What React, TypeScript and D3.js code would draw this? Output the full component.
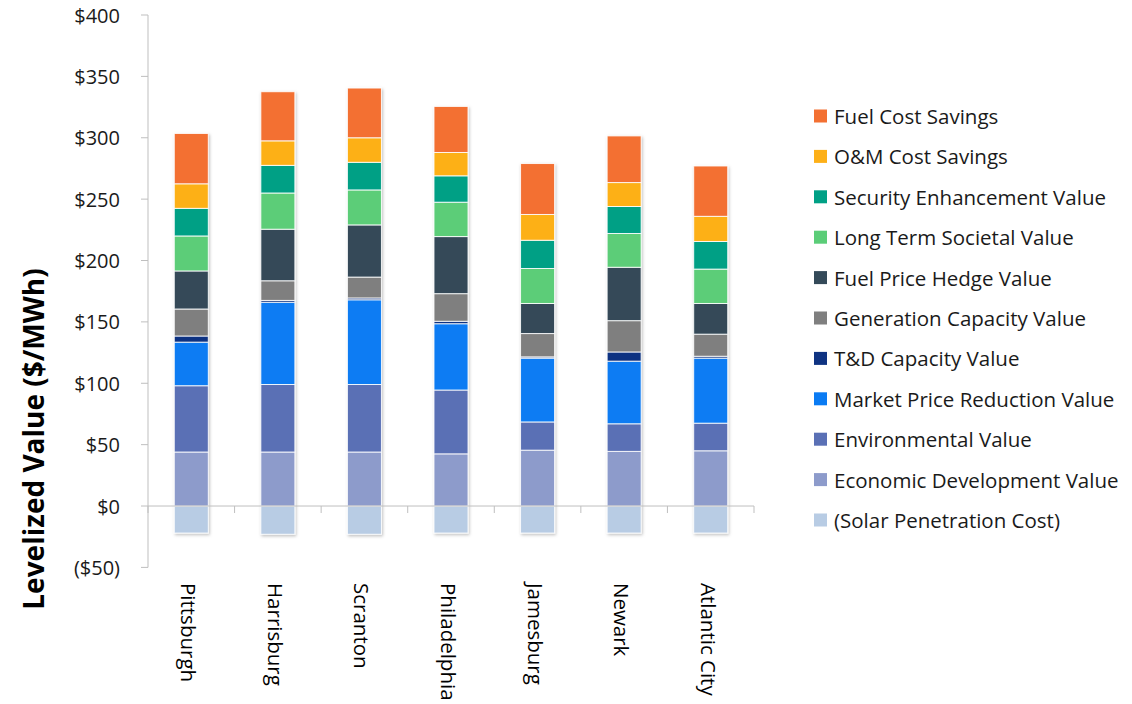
import React from "react";
import * as d3 from "d3";

const cities = ["Pittsburgh", "Harrisburg", "Scranton", "Philadelphia", "Jamesburg", "Newark", "Atlantic City"];

// stacking order bottom -> top (positive), solar is negative
const seriesNames = [
  "(Solar Penetration Cost)",
  "Economic Development Value",
  "Environmental Value",
  "Market Price Reduction Value",
  "T&D Capacity Value",
  "Generation Capacity Value",
  "Fuel Price Hedge Value",
  "Long Term Societal Value",
  "Security Enhancement Value",
  "O&M Cost Savings",
  "Fuel Cost Savings",
];

const seriesColors = [
  "#b8cce4",
  "#8d9bcb",
  "#5a70b5",
  "#0a7bf3",
  "#0f3382",
  "#7f7f7f",
  "#344a59",
  "#5bcd78",
  "#00a085",
  "#fdb018",
  "#f37032",
];

const solarCost = [-22, -23, -23, -22, -22, -22, -22];
const economicDev = [44, 44, 44, 42.5, 45.5, 44.5, 45];
const environmental = [54, 55, 55, 52, 23, 22.5, 22.5];
const marketPrice = [35.5, 67, 69, 54, 52, 51, 53];
const tdCapacity = [5, 1.5, 1.5, 2, 1, 7.5, 1.5];
const genCapacity = [22, 16, 17, 22.5, 19, 25.5, 18];
const fuelHedge = [31, 42, 42.5, 46.5, 24.5, 43.5, 25];
const longTerm = [28.5, 29.5, 28.5, 28, 28.5, 27.5, 28];
const security = [22.5, 22.5, 22.5, 21.5, 23, 22, 22.5];
const omSavings = [20, 20, 20, 19, 21, 19.5, 20.5];
const fuelSavings = [41, 40, 40.5, 37.5, 41.5, 38, 41];

const seriesValues = [
  solarCost,
  economicDev,
  environmental,
  marketPrice,
  tdCapacity,
  genCapacity,
  fuelHedge,
  longTerm,
  security,
  omSavings,
  fuelSavings,
];

const yTicks = [-50, 0, 50, 100, 150, 200, 250, 300, 350, 400];

const fmt = (v: number) => (v < 0 ? `($${Math.abs(v)})` : `$${v}`);

const FONT = "'Open Sans', 'Noto Sans', sans-serif";

export default function App() {
  const W = 1132;
  const H = 704;
  const x = d3
    .scaleBand<string>()
    .domain(cities)
    .range([148, 754])
    .paddingInner(0.607)
    .paddingOuter(0.3035);
  const y = d3.scaleLinear().domain([-50, 400]).range([567.4, 15]);

  // build segments
  const segs: { city: string; i: number; y0: number; y1: number }[] = [];
  cities.forEach((c, ci) => {
    let pos = 0;
    let neg = 0;
    seriesValues.forEach((vals, si) => {
      const v = vals[ci];
      if (v >= 0) {
        segs.push({ city: c, i: si, y0: pos, y1: pos + v });
        pos += v;
      } else {
        segs.push({ city: c, i: si, y0: neg + v, y1: neg });
        neg += v;
      }
    });
  });

  const boundaries = d3.range(cities.length + 1).map((k) => 148 + k * (606 / cities.length));

  const legendOrder = [...seriesNames.keys()].reverse();

  return (
    <svg
      width={W}
      height={H}
      style={{ position: "absolute", left: 0, top: 0, background: "#fff" }}
      fontFamily={FONT}
    >
      <defs>
        <filter id="shadow" x="-20%" y="-5%" width="140%" height="110%">
          <feDropShadow dx="1" dy="1.5" stdDeviation="1.5" floodColor="#000" floodOpacity="0.25" />
        </filter>
      </defs>

      {/* y axis */}
      <line x1={148} x2={148} y1={y(400)} y2={y(-50)} stroke="#bfbfbf" strokeWidth={1} />
      {yTicks.map((t) => (
        <g key={t}>
          <line x1={141} x2={148} y1={y(t)} y2={y(t)} stroke="#bfbfbf" strokeWidth={1} />
          <text
            x={120}
            y={y(t)}
            textAnchor="end"
            dominantBaseline="central"
            fontSize={20}
            fill="#1a1a1a"
          >
            {fmt(t)}
          </text>
        </g>
      ))}

      {/* bars */}
      {cities.map((c) => (
        <g key={c} filter="url(#shadow)">
          {segs
            .filter((s) => s.city === c)
            .map((s) => (
              <rect
                key={s.i}
                x={x(c)!}
                width={x.bandwidth()}
                y={y(s.y1)}
                height={Math.max(0, y(s.y0) - y(s.y1))}
                fill={seriesColors[s.i]}
                stroke="#ffffff"
                strokeOpacity={0.85}
                strokeWidth={1}
              />
            ))}
        </g>
      ))}

      {/* x axis */}
      <line x1={148} x2={754} y1={y(0)} y2={y(0)} stroke="#bfbfbf" strokeWidth={1} />
      {boundaries.map((b, k) => (
        <line key={k} x1={b} x2={b} y1={y(0)} y2={y(0) + 7} stroke="#bfbfbf" strokeWidth={1} />
      ))}

      {/* category labels */}
      {cities.map((c) => (
        <text
          key={c}
          transform={`translate(${x(c)! + x.bandwidth() / 2 - 2},583) rotate(90)`}
          textAnchor="start"
          dominantBaseline="central"
          fontSize={20.5}
          fill="#000"
        >
          {c}
        </text>
      ))}

      {/* y title */}
      <text
        transform={`translate(33,439) rotate(-90)`}
        textAnchor="middle"
        dominantBaseline="central"
        fontSize={28}
        fontWeight="bold"
        fill="#000"
      >
        Levelized Value ($/MWh)
      </text>

      {/* legend */}
      {legendOrder.map((si, k) => (
        <g key={si} transform={`translate(814,${116 + k * 40.4})`}>
          <rect x={0} y={-6.5} width={13} height={13} fill={seriesColors[si]} />
          <text x={20} y={0} dominantBaseline="central" fontSize={20.5} fill="#1a1a1a">
            {seriesNames[si]}
          </text>
        </g>
      ))}
    </svg>
  );
}
